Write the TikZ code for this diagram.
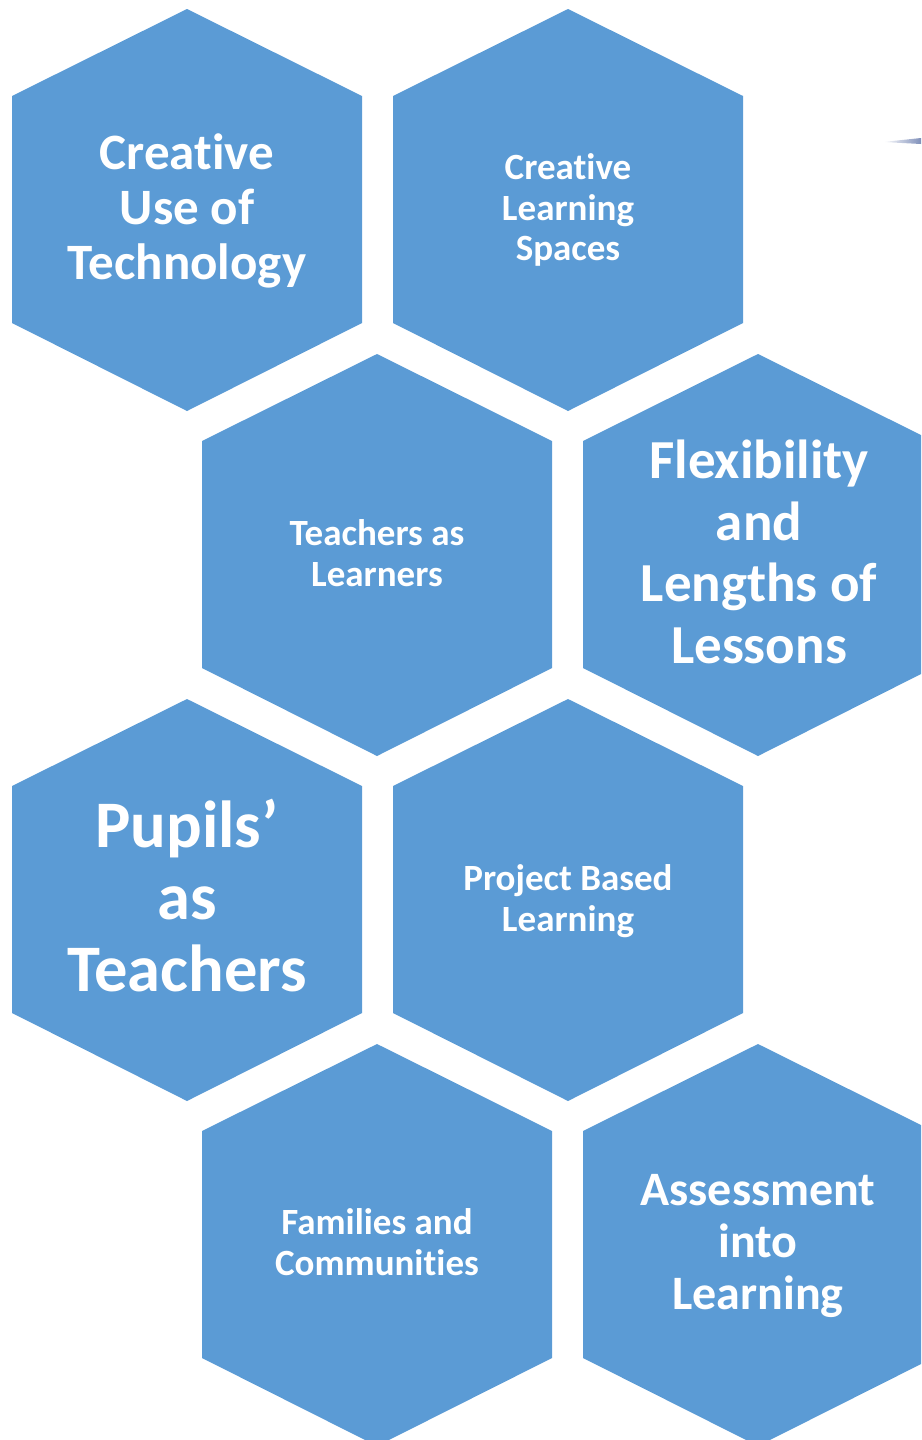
\documentclass[tikz,border=0pt]{standalone}
\usepackage{fontspec}
\setmainfont{Carlito}[Ligatures=NoCommon]
\usepackage{tikz}
\definecolor{cellblue}{RGB}{91,155,213}
\definecolor{tipgray}{RGB}{128,144,186}
\tikzstyle{cell}=[fill=cellblue,draw=none]
\tikzstyle{celltext}=[text=white,align=center,inner sep=0pt]
\tikzstyle{hugetext}=[celltext,font=\bfseries\fontsize{66.5}{72}\selectfont]
\tikzstyle{bigtext}=[celltext,font=\bfseries\fontsize{51}{55}\selectfont]
\tikzstyle{flextext}=[celltext,font=\bfseries\fontsize{55}{61.5}\selectfont]
\tikzstyle{midtext}=[celltext,font=\bfseries\fontsize{48}{52}\selectfont]
\tikzstyle{smalltext}=[celltext,font=\bfseries\fontsize{37}{40.5}\selectfont]

\begin{document}
\begin{tikzpicture}[x=1pt,y=-1pt]

      \useasboundingbox (0,0) rectangle (921,1440);
      \clip (0,0) rectangle (921,1440);

      \coordinate (tech) at (187,210);
      \coordinate (spaces) at (568,210);
      \coordinate (teach) at (377,555);
      \coordinate (flex) at (758,555);
      \coordinate (pupils) at (187,900);
      \coordinate (project) at (568,900);
      \coordinate (family) at (377,1245);
      \coordinate (assess) at (758,1245);

      \foreach \c in {tech,spaces,teach,flex,pupils,project,family,assess}
        \fill[cell] (\c) ++(0,-201) -- ++(175,87) -- ++(0,227) -- ++(-175,88)
          -- ++(-175,-88) -- ++(0,-227) -- cycle;

      \node[bigtext] (techlabel) at (187,211) {Creative\\Use of\\Technology};
      \node[smalltext] (spaceslabel) at (568,210) {Creative\\Learning\\Spaces};
      \node[smalltext] (teachlabel) at (377,553) {Teachers as\\Learners};
      \node[flextext] (flexlabel) at (759,552) {Flexibility\\and\\Lengths of\\Lessons};
      \node[hugetext] (pupilslabel) at (187,896) {Pupils’\\as\\Teachers};
      \node[smalltext] (projectlabel) at (568,901) {Project Based\\Learning};
      \node[smalltext] (familylabel) at (377,1242) {Families and\\Communities};
      \node[midtext] (assesslabel) at (758,1246) {Assessment\\into\\Learning};

      \shade[left color=white,right color=tipgray] (883,142) -- (921,138) -- (921,144) -- cycle;

\end{tikzpicture}
\end{document}
